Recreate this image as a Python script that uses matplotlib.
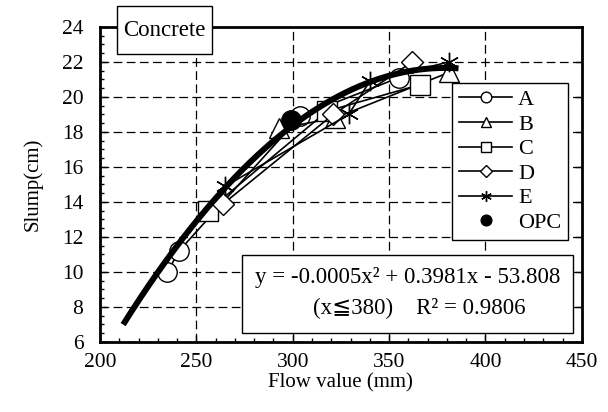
import numpy as np
import matplotlib.pyplot as plt
from matplotlib.patches import Rectangle

plt.rcParams['font.family'] = ['Liberation Serif', 'DejaVu Serif', 'DejaVu Sans']

# measured series (flow value mm, slump cm)
a_x = [235, 241, 304, 355]
a_y = [10.0, 11.2, 18.9, 21.1]
b_x = [293, 322, 381]
b_y = [18.2, 18.8, 21.4]
c_x = [256, 318, 366]
c_y = [13.5, 19.2, 20.7]
d_x = [264, 321, 362]
d_y = [13.9, 19.0, 22.0]
e_x = [265, 329, 340, 381]
e_y = [14.9, 19.0, 20.9, 22.0]
opc_x = [299]
opc_y = [18.7]

# quadratic trend (coefficient a carries more digits than the label shows)
fit_coef = [-0.000525, 0.3981, -53.808]
fit_range = [212, 386]

fig = plt.figure(figsize=(6.08, 4.12), dpi=100)
ax = fig.add_axes([0.1645, 0.170, 0.7925, 0.7645])

series = [
    (a_x, a_y, 'o', 'A'),
    (b_x, b_y, '^', 'B'),
    (c_x, c_y, 's', 'C'),
    (d_x, d_y, 'D', 'D'),
    (e_x, e_y, (6, 2, 0), 'E'),
]
for xs, ys, m, lab in series:
    ms = 14 if m != 'D' else 11
    ax.plot(xs, ys, color='black', lw=1.2, marker=m, ms=ms, mfc='white',
            mec='black', mew=1.0, label=lab, zorder=3)
ax.plot(opc_x, opc_y, ls='none', marker='o', ms=14, color='black', label='OPC', zorder=3)

xf = np.linspace(fit_range[0], fit_range[1], 200)
ax.plot(xf, np.polyval(fit_coef, xf), color='black', lw=4.3, solid_capstyle='butt', zorder=4)

ax.set_xlim(200, 450)
ax.set_ylim(6, 24)
ax.set_xticks(np.arange(200, 451, 50))
ax.set_yticks(np.arange(6, 25, 2))
ax.set_xticks(np.arange(200, 451, 10), minor=True)
ax.set_yticks(np.arange(6, 24.1, 0.5), minor=True)
ax.tick_params(which='both', direction='in', labelsize=15.5, top=False, right=True)
ax.tick_params(which='major', length=5, width=1)
ax.tick_params(which='minor', length=3, width=1, right=False)
ax.tick_params(axis='x', pad=8)
ax.tick_params(axis='y', pad=12)
for s in ax.spines.values():
    s.set_linewidth(2)
ax.grid(True, which='major', color='black', lw=0.9, ls=(0, (7, 3.5)))
ax.set_axisbelow(True)

ax.set_xlabel('Flow value (mm)', fontsize=15, labelpad=1)
ax.set_ylabel('Slump(cm)', fontsize=15, labelpad=14)

leg = ax.legend(loc='upper right', bbox_to_anchor=(0.971, 0.822), borderaxespad=0,
                fontsize=16, frameon=True, fancybox=False, edgecolor='black',
                framealpha=1, handlelength=2.4, handletextpad=0.25, labelspacing=0.18,
                borderpad=0.3, markerscale=0.55)
leg.get_frame().set_linewidth(1.0)
leg.set_zorder(6)

# equation box
ax.add_patch(Rectangle((0.2946, 0.0286), 0.6864, 0.2474, transform=ax.transAxes,
                       facecolor='white', edgecolor='black', lw=1.0, zorder=5))
ax.text(0.6378, 0.206, 'y = -0.0005x² + 0.3981x - 53.808', transform=ax.transAxes,
        ha='center', va='center', fontsize=16.5, zorder=6)
ax.text(0.662, 0.106, '(x≦380)    R² = 0.9806', transform=ax.transAxes,
        ha='center', va='center', fontsize=16.5, zorder=6)

# label box
ax.add_patch(Rectangle((0.0353, 0.914), 0.197, 0.153, transform=ax.transAxes,
                       facecolor='white', edgecolor='black', lw=1.0, zorder=5, clip_on=False))
ax.text(0.134, 0.99, 'Concrete', transform=ax.transAxes, ha='center', va='center',
        fontsize=16.5, zorder=6, clip_on=False)

fig.savefig('out.png', dpi=100)
